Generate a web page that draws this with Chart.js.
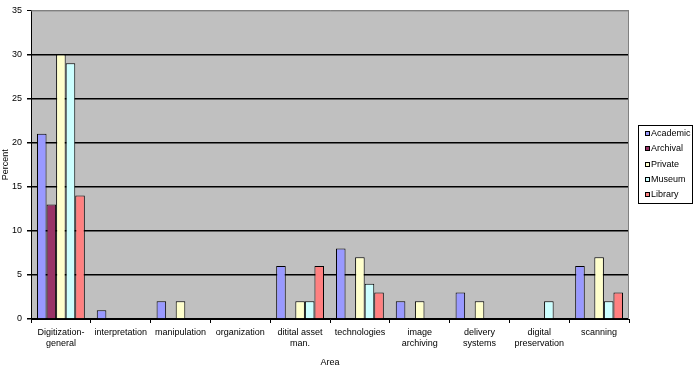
<!DOCTYPE html>
<html>
<head>
<meta charset="utf-8">
<script src="https://cdn.jsdelivr.net/npm/chart.js@4"></script>
<style>
html,body{margin:0;padding:0;background:#fff;}
#wrap{width:695px;height:377px;position:relative;}
</style>
</head>
<body>
<div id="wrap"><canvas id="c" width="695" height="377"></canvas></div>
<script>
const categories = [
  ["Digitization-","general"],
  "interpretation",
  "manipulation",
  "organization",
  ["ditital asset","man."],
  "technologies",
  ["image","archiving"],
  ["delivery","systems"],
  ["digital","preservation"],
  "scanning"
];
const academic = [21, 1, 2, null, 6, 8, 2, 3, null, 6];
const archival = [13, null, null, null, null, null, null, null, null, null];
const privateS = [30, null, 2, null, 2, 7, 2, 2, null, 7];
const museum   = [29, null, null, null, 2, 4, null, null, 2, 2];
const library  = [14, null, null, null, 6, 3, null, null, null, 3];
const seriesNames = ["Academic","Archival","Private","Museum","Library"];
const seriesColors = ["#9999FF","#993366","#FFFFCC","#CCFFFF","#FF8080"];
const yTicks = [0,5,10,15,20,25,30,35];

const FONT = "'Liberation Sans', Arial, sans-serif";

const bgPlugin = {
  id: 'plotBg',
  beforeDraw(chart) {
    const {ctx, chartArea: a} = chart;
    ctx.save();
    ctx.fillStyle = '#C0C0C0';
    ctx.fillRect(a.left, a.top, a.right - a.left, a.bottom - a.top);
    ctx.restore();
  },
  afterDatasetsDraw(chart) {
    const {ctx, chartArea: a} = chart;
    ctx.save();
    ctx.strokeStyle = '#808080';
    ctx.lineWidth = 1;
    ctx.beginPath();
    ctx.moveTo(a.left, a.top + 0.5);
    ctx.lineTo(a.right - 0.5, a.top + 0.5);
    ctx.lineTo(a.right - 0.5, a.bottom);
    ctx.stroke();
    ctx.restore();
  }
};

const legendPlugin = {
  id: 'boxLegend',
  afterDraw(chart) {
    const {ctx, chartArea: a} = chart;
    const left = a.right + 9, top = 125, w = 54, h = 78;
    ctx.save();
    ctx.fillStyle = '#fff';
    ctx.fillRect(left, top, w, h);
    ctx.strokeStyle = '#000';
    ctx.lineWidth = 1;
    ctx.strokeRect(left + 0.5, top + 0.5, w, h);
    ctx.font = '9px ' + FONT;
    ctx.textBaseline = 'middle';
    chart.data.datasets.forEach((ds, i) => {
      const y = top + 8 + i * 15.3;
      ctx.fillStyle = ds.backgroundColor;
      ctx.fillRect(left + 7, Math.round(y) - 2, 5, 5);
      ctx.strokeStyle = '#000';
      ctx.strokeRect(left + 7.5, Math.round(y) - 1.5, 4, 4);
      ctx.fillStyle = '#000';
      ctx.fillText(ds.label, left + 13, y + 0.5);
    });
    ctx.restore();
  }
};

const dataArrays = [academic, archival, privateS, museum, library];

new Chart(document.getElementById('c'), {
  type: 'bar',
  data: {
    labels: categories,
    datasets: dataArrays.map((d, i) => ({
      label: seriesNames[i],
      data: d,
      backgroundColor: seriesColors[i],
      borderColor: '#000',
      borderWidth: 1,
      borderSkipped: 'bottom',
      categoryPercentage: 0.8,
      barPercentage: 1.0
    }))
  },
  options: {
    responsive: false,
    animation: false,
    devicePixelRatio: 1,
    layout: { padding: { top: 8, right: 66, left: 0, bottom: 0 } },
    plugins: {
      legend: { display: false },
      tooltip: { enabled: false }
    },
    scales: {
      x: {
        grid: {
          offset: true,
          drawOnChartArea: false,
          drawTicks: true,
          tickLength: 4,
          color: '#000'
        },
        border: { display: true, color: '#000', width: 1 },
        ticks: {
          color: '#000',
          font: { family: FONT, size: 9, lineHeight: 1.25 },
          padding: 4,
          maxRotation: 0,
          autoSkip: false
        },
        title: {
          display: true,
          text: 'Area',
          color: '#000',
          font: { family: FONT, size: 9 },
          padding: { top: 0, bottom: 9 }
        },
        afterFit(scale) { scale.height = 58; }
      },
      y: {
        min: 0,
        max: 35,
        afterBuildTicks(scale) { scale.ticks = yTicks.map(v => ({ value: v })); },
        grid: {
          color: ctx => (ctx.tick && ctx.tick.value === 35) ? '#808080' : (ctx.tick && ctx.tick.value === 0 ? '#000' : '#000'),
          lineWidth: ctx => (ctx.tick && ctx.tick.value === 35) ? 1 : 1.5,
          tickColor: '#000',
          tickLength: 4,
          drawTicks: true
        },
        border: { display: true, color: '#000', width: 1 },
        ticks: {
          color: '#000',
          font: { family: FONT, size: 9 },
          padding: 5
        },
        title: {
          display: true,
          text: 'Percent',
          color: '#000',
          font: { family: FONT, size: 9 },
          padding: { top: 0, bottom: 0 }
        },
        afterFit(scale) { scale.width = 31; }
      }
    }
  },
  plugins: [bgPlugin, legendPlugin]
});
</script>
</body>
</html>
